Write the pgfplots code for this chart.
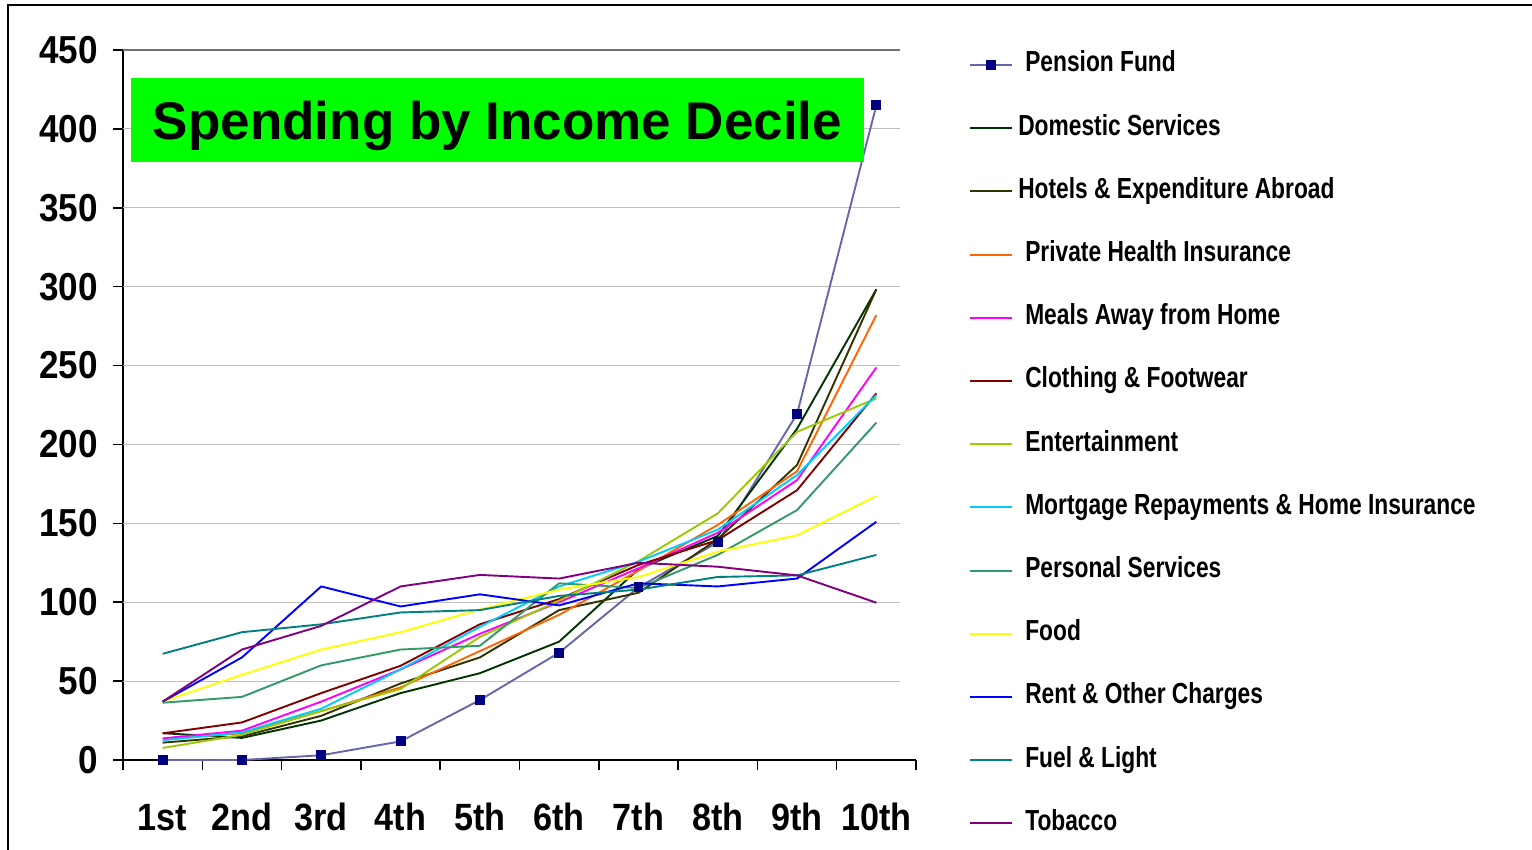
\documentclass[border=0pt]{standalone}
\usepackage{fontspec}
\setmainfont{Liberation Sans}
\newfontfamily\tickfont{Liberation Sans}[FakeStretch=0.9]
\newfontfamily\legfont{Liberation Sans}[FakeStretch=0.785]
\usepackage{pgfplots}
\usepackage{pgfplotstable}
\pgfplotsset{compat=1.18}

\definecolor{penline}{RGB}{102,102,170}
\definecolor{penmark}{RGB}{0,0,128}
\definecolor{domcol}{RGB}{0,51,0}
\definecolor{hotcol}{RGB}{51,51,0}
\definecolor{phicol}{RGB}{255,102,0}
\definecolor{meacol}{RGB}{255,0,255}
\definecolor{clocol}{RGB}{128,0,0}
\definecolor{entcol}{RGB}{153,204,0}
\definecolor{morcol}{RGB}{0,204,255}
\definecolor{percol}{RGB}{51,153,102}
\definecolor{foocol}{RGB}{255,255,0}
\definecolor{rencol}{RGB}{0,0,255}
\definecolor{fuecol}{RGB}{0,128,128}
\definecolor{tobcol}{RGB}{128,0,128}
\definecolor{titlegreen}{RGB}{0,255,0}

\pgfplotsset{
  plainleg/.style={legend image code/.code={\fill[##1, draw=none] (0pt,-0.5pt) rectangle (21pt,0.5pt);}},
  markleg/.style={legend image code/.code={\draw[##1,mark repeat=2,mark phase=2]
    plot coordinates {(0pt,0pt) (10.5pt,0pt) (21pt,0pt)};}},
}

% spending by decile
\pgfplotstableread{
d  pen   dom   hot   phi  mea   clo   ent   mor   per   foo   ren   fue   tob
1  0     17    11    13   13.7  16.9  7.6   12.5  36.3  37    37    67.3  37
2  0     14    15    17   18.6  23.8  16    17.5  40    54    65    81    70
3  3     25    28    31   37    42.4  31    32.5  60    70    110   86    85
4  11.8  42.4  48.5  46   57.4  59.7  45    57.4  70    81    97.3  93.5  110
5  38    55    65    69   80    86    78    84.4  72.4  95.4  105   95    117.3
6  68    75    95    92   100   102   101   110   112   108   98    104   115
7  109.4 121   106   120  121.5 123.6 126   125.7 109   116   112   108   125
8  138   142   140   149  144   139.4 156.3 146   130   132   110   116   122.5
9  219.3 210   187   183  177.4 171   208   180.6 158.4 142.4 115   117   117
10 415   298.3 298.3 282  248.8 232.4 229.2 231.3 213.8 167.3 151   130   99.7
}\spend

\begin{document}
\begin{tikzpicture}
\useasboundingbox (0,0) rectangle (766pt,425pt);
\fill[white] (0,0) rectangle (766pt,425pt);
\draw[line width=1pt] (4pt,0) -- (4pt,422.5pt) -- (766pt,422.5pt);
\begin{axis}[
  at={(61.5pt,45pt)}, anchor=south west,
  scale only axis, width=396.5pt, height=355pt,
  xmin=0.5, xmax=10.5, ymin=0, ymax=450,
  axis x line*=bottom, axis y line*=left,
  axis line style={line width=0.75pt, black},
  tick align=outside, major tick length=5pt,
  tick style={black, line width=0.75pt},
  xtick={0.5,1.5,...,10.5},
  xticklabels={1st,2nd,3rd,4th,5th,6th,7th,8th,9th,10th,},
  xticklabel style={font=\tickfont\bfseries\fontsize{19pt}{21pt}\selectfont,
    anchor=base, inner sep=0pt, xshift=19.825pt, yshift=-30.5pt},
  ytick={0,50,...,450},
  yticklabel style={font=\tickfont\bfseries\fontsize{19.5pt}{21pt}\selectfont,
    anchor=east, inner sep=0pt, xshift=-7.5pt},
  /pgf/number format/assume math mode=true,
  clip=false,
  every axis plot/.append style={line width=0.95pt, plainleg},
  legend cell align=left,
  legend style={at={(1.0668,0.9992)}, anchor=north west, draw=none, fill=none,
    inner sep=0pt, row sep=17.6pt,
    font=\legfont\bfseries\fontsize{14.5pt}{16pt}\selectfont,
    nodes={inner sep=0pt, text height=10.5pt, text depth=3.5pt},
    /tikz/every odd column/.append style={column sep=6pt}},
]
% gridlines stop short of the x axis end, as in the original
\draw[black!25, line width=0.6pt] (axis cs:0.5,50) -- (axis cs:10.3,50)
  (axis cs:0.5,100) -- (axis cs:10.3,100)
  (axis cs:0.5,150) -- (axis cs:10.3,150)
  (axis cs:0.5,200) -- (axis cs:10.3,200)
  (axis cs:0.5,250) -- (axis cs:10.3,250)
  (axis cs:0.5,300) -- (axis cs:10.3,300)
  (axis cs:0.5,350) -- (axis cs:10.3,350)
  (axis cs:0.5,400) -- (axis cs:10.3,400);
\draw[black!55, line width=0.8pt] (axis cs:0.5,450) -- (axis cs:10.3,450);

\addplot[penline, mark=square*, mark size=2pt, mark options={penmark, fill=penmark}, markleg]
  table[x=d, y=pen] {\spend};
\addplot[domcol] table[x=d, y=dom] {\spend};
\addplot[hotcol] table[x=d, y=hot] {\spend};
\addplot[phicol] table[x=d, y=phi] {\spend};
\addplot[meacol] table[x=d, y=mea] {\spend};
\addplot[clocol] table[x=d, y=clo] {\spend};
\addplot[entcol] table[x=d, y=ent] {\spend};
\addplot[morcol] table[x=d, y=mor] {\spend};
\addplot[percol] table[x=d, y=per] {\spend};
\addplot[foocol] table[x=d, y=foo] {\spend};
\addplot[rencol] table[x=d, y=ren] {\spend};
\addplot[fuecol] table[x=d, y=fue] {\spend};
\addplot[tobcol] table[x=d, y=tob] {\spend};

\legend{Pension Fund,
  \hspace*{-3.5pt}Domestic Services,
  \hspace*{-3.5pt}Hotels \& Expenditure Abroad,
  Private Health Insurance,
  Meals Away from Home,
  Clothing \& Footwear,
  Entertainment,
  Mortgage Repayments \& Home Insurance,
  Personal Services,
  Food,
  Rent \& Other Charges,
  Fuel \& Light,
  Tobacco}
\end{axis}
\fill[titlegreen] (65.5pt,344pt) rectangle (432pt,386pt);
\node[anchor=base, inner sep=0pt, font=\bfseries\fontsize{26.5pt}{30pt}\selectfont]
  at (248.75pt,355pt) {Spending by Income Decile};
\end{tikzpicture}
\end{document}
